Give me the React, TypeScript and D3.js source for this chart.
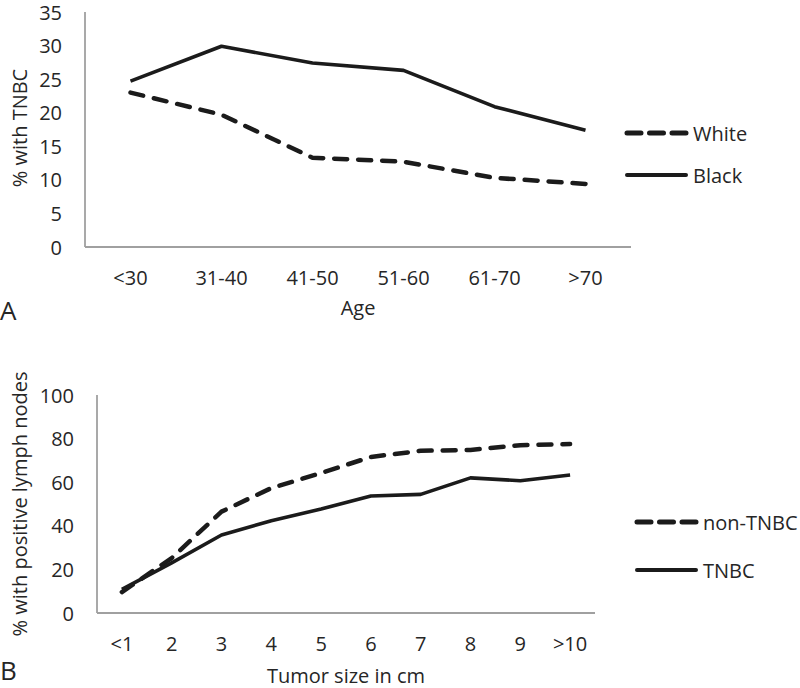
import React from "react";
import * as d3 from "d3";

const ageCategories = ["<30", "31-40", "41-50", "51-60", "61-70", ">70"];
const whiteValues = [23.0, 19.7, 13.3, 12.7, 10.3, 9.4];
const blackValues = [24.7, 29.9, 27.4, 26.3, 20.9, 17.4];
const ageTicks = [0, 5, 10, 15, 20, 25, 30, 35];

const sizeCategories = ["<1", "2", "3", "4", "5", "6", "7", "8", "9", ">10"];
const nonTnbcValues = [9.6, 25.2, 46.5, 57.3, 64.2, 71.6, 74.4, 74.8, 77.0, 77.5];
const tnbcValues = [10.8, 23.0, 35.8, 42.3, 47.7, 53.7, 54.4, 62.0, 60.7, 63.3];
const sizeTicks = [0, 20, 40, 60, 80, 100];

const FONT = "'Open Sans', 'Noto Sans', sans-serif";
const INK = "#1b1b1b";
const AXIS = "#a0a0a0";
const TEXT = "#262626";

type Series = { name: string; values: number[]; dashed: boolean };

type PanelProps = {
  categories: string[];
  series: Series[];
  ticks: number[];
  yMax: number;
  left: number;
  right: number;
  top: number;
  bottom: number;
  yTitle: string;
  yTitleY: number;
  xTitle: string;
  xTitleY: number;
  letter: string;
  letterY: number;
  legendX: number;
  legendYs: number[];
};

function Panel(p: PanelProps) {
  const x = d3.scalePoint<string>().domain(p.categories).range([p.left, p.right]).padding(0.5);
  const y = d3.scaleLinear().domain([0, p.yMax]).range([p.bottom, p.top]);
  const line = d3
    .line<number>()
    .x((_, i) => x(p.categories[i]) as number)
    .y((d) => y(d));
  const legendOrder = [...p.series].sort((a, b) => (a.dashed === b.dashed ? 0 : a.dashed ? -1 : 1));
  return (
    <g>
      {p.ticks.map((t) => (
        <text
          key={t}
          x={p.left - 23}
          y={y(t)}
          textAnchor="end"
          dominantBaseline="central"
          fontSize={20}
          fontFamily={FONT}
          fill={TEXT}
        >
          {t}
        </text>
      ))}
      <line x1={p.left} x2={p.left} y1={y(p.yMax)} y2={p.bottom} stroke={AXIS} strokeWidth={1.8} />
      <line x1={p.left} x2={p.right} y1={p.bottom} y2={p.bottom} stroke={AXIS} strokeWidth={1.8} />
      {p.categories.map((c) => (
        <text
          key={c}
          x={x(c)}
          y={p.bottom + 38}
          textAnchor="middle"
          fontSize={20}
          fontFamily={FONT}
          fill={TEXT}
        >
          {c}
        </text>
      ))}
      {p.series.map((s) => (
        <path
          key={s.name}
          d={line(s.values) || ""}
          fill="none"
          stroke={INK}
          strokeWidth={s.dashed ? 4.5 : 3.6}
          strokeDasharray={s.dashed ? "13 11" : undefined}
          strokeLinecap={s.dashed ? "round" : "butt"}
          strokeLinejoin="round"
        />
      ))}
      {legendOrder.map((s, i) => (
        <g key={s.name}>
          <line
            x1={p.legendX + 2}
            x2={p.legendX + 61}
            y1={p.legendYs[i]}
            y2={p.legendYs[i]}
            stroke={INK}
            strokeWidth={s.dashed ? 5 : 4}
            strokeDasharray={s.dashed ? "14 8.5" : undefined}
            strokeLinecap="round"
          />
          <text
            x={p.legendX + 68}
            y={p.legendYs[i]}
            dominantBaseline="central"
            fontSize={20}
            fontFamily={FONT}
            fill={TEXT}
          >
            {s.name}
          </text>
        </g>
      ))}
      <text
        transform={`translate(19, ${p.yTitleY}) rotate(-90)`}
        textAnchor="middle"
        dominantBaseline="central"
        fontSize={20}
        fontFamily={FONT}
        fill={TEXT}
      >
        {p.yTitle}
      </text>
      <text
        x={(p.left + p.right) / 2}
        y={p.xTitleY}
        textAnchor="middle"
        fontSize={20}
        fontFamily={FONT}
        fill={TEXT}
      >
        {p.xTitle}
      </text>
      <text x={0} y={p.letterY} fontSize={26} fontFamily={FONT} fill={TEXT}>
        {p.letter}
      </text>
    </g>
  );
}

export default function App() {
  return (
    <svg
      width={800}
      height={688}
      style={{ position: "absolute", left: 0, top: 0, background: "#fff" }}
    >
      <rect width={800} height={688} fill="#fff" />
      <Panel
        categories={ageCategories}
        series={[
          { name: "White", values: whiteValues, dashed: true },
          { name: "Black", values: blackValues, dashed: false },
        ]}
        ticks={ageTicks}
        yMax={35}
        left={85}
        right={631}
        top={12}
        bottom={247}
        yTitle="% with TNBC"
        yTitleY={128}
        xTitle="Age"
        xTitleY={315}
        letter="A"
        letterY={320}
        legendX={625}
        legendYs={[133, 175]}
      />
      <Panel
        categories={sizeCategories}
        series={[
          { name: "non-TNBC", values: nonTnbcValues, dashed: true },
          { name: "TNBC", values: tnbcValues, dashed: false },
        ]}
        ticks={sizeTicks}
        yMax={100}
        left={97}
        right={595}
        top={395}
        bottom={613}
        yTitle="% with positive lymph nodes"
        yTitleY={504}
        xTitle="Tumor size in cm"
        xTitleY={683}
        letter="B"
        letterY={680}
        legendX={635}
        legendYs={[522, 570]}
      />
    </svg>
  );
}
